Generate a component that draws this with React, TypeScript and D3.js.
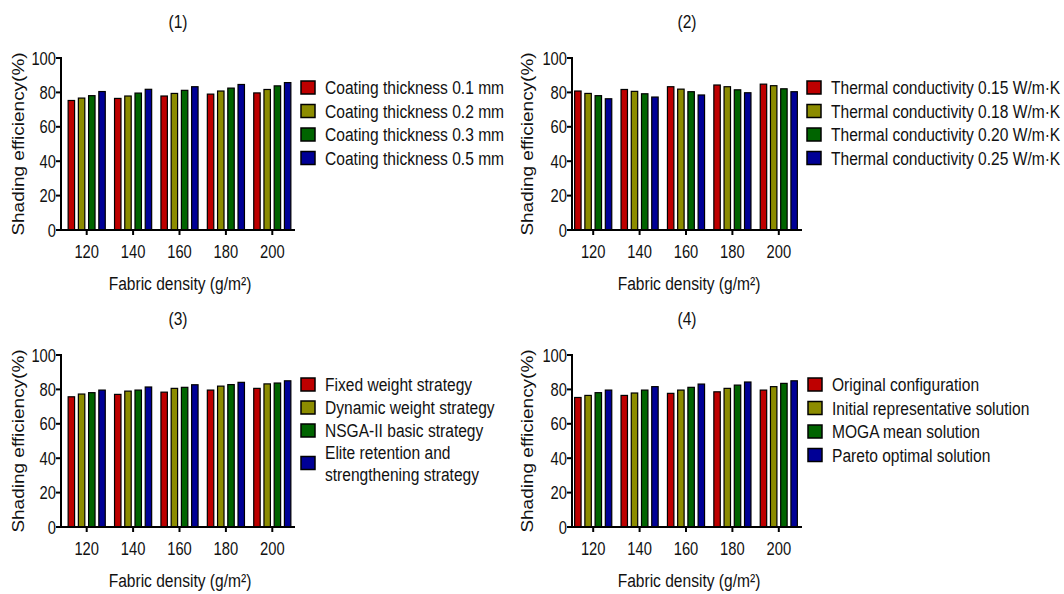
import React from 'react';
import * as d3 from 'd3';

// ---------- DATA ----------
const categories = ['120', '140', '160', '180', '200'];
const yTicks = [0, 20, 40, 60, 80, 100];
const panelTitles = ['(1)', '(2)', '(3)', '(4)'];
const xAxisTitle = 'Fabric density (g/m²)';
const yAxisTitle = 'Shading efficiency(%)';

// Panel 1: coating thickness
const p1Series = ['Coating thickness 0.1 mm', 'Coating thickness 0.2 mm', 'Coating thickness 0.3 mm', 'Coating thickness 0.5 mm'];
const p1Thick01 = [75.3, 76.5, 77.9, 79.0, 79.7];
const p1Thick02 = [76.7, 77.9, 79.4, 80.8, 81.7];
const p1Thick03 = [78.1, 79.6, 81.2, 82.5, 83.8];
const p1Thick05 = [80.5, 81.8, 83.3, 84.6, 85.7];

// Panel 2: thermal conductivity
const p2Series = ['Thermal conductivity 0.15 W/m·K', 'Thermal conductivity 0.18 W/m·K', 'Thermal conductivity 0.20 W/m·K', 'Thermal conductivity 0.25 W/m·K'];
const p2Cond015 = [80.8, 81.7, 83.3, 84.3, 84.8];
const p2Cond018 = [79.4, 80.6, 81.9, 83.3, 83.9];
const p2Cond020 = [78.1, 79.2, 80.4, 81.5, 82.1];
const p2Cond025 = [76.3, 77.3, 78.5, 79.8, 80.4];

// Panel 3: strategies
const p3Series = ['Fixed weight strategy', 'Dynamic weight strategy', 'NSGA-II basic strategy', 'Elite retention and|strengthening strategy'];
const p3Fixed = [75.7, 77.1, 78.4, 79.6, 80.6];
const p3Dynamic = [77.3, 79.0, 80.6, 81.9, 83.2];
const p3Nsga = [78.1, 79.6, 81.2, 82.8, 83.7];
const p3Elite = [79.6, 81.4, 82.7, 84.1, 85.0];

// Panel 4: solutions
const p4Series = ['Original configuration', 'Initial representative solution', 'MOGA mean solution', 'Pareto optimal solution'];
const p4Original = [75.3, 76.5, 77.7, 78.6, 79.6];
const p4Initial = [76.5, 77.9, 79.6, 80.6, 81.6];
const p4Moga = [78.1, 79.6, 81.2, 82.5, 83.5];
const p4Pareto = [79.6, 81.6, 83.1, 84.3, 85.0];

const seriesColors = ['#BE0000', '#8C8C00', '#006400', '#000096'];

// ---------- LAYOUT ----------
const SX = 0.82; // horizontal text compression
const FONT = '"Liberation Sans", Arial, sans-serif';

type PanelProps = {
  oy: number;
  axisX: number;
  bandRange: [number, number];
  xEnd: number;
  titleX: number;
  title: string;
  yLabelX: number;
  legendX: number;
  series: string[];
  values: number[][];
};

function T({ x, y, anchor = 'start', size = 18, rotate = false, children }: any) {
  return (
    <text
      transform={`translate(${x},${y}) scale(${SX},1)${rotate ? ' rotate(-90)' : ''}`}
      textAnchor={anchor}
      fontSize={size}
      fontFamily={FONT}
      fill="#111"
    >
      {children}
    </text>
  );
}

function Panel({ oy, axisX, bandRange, xEnd, titleX, title, yLabelX, legendX, series, values }: PanelProps) {
  const yTop = oy + 58;
  const yBottom = oy + 230;
  const y = d3.scaleLinear().domain([0, 100]).range([yBottom, yTop]);
  const x0 = d3.scaleBand<string>().domain(categories).range(bandRange).paddingInner(0.2).paddingOuter(0.1);
  const x1 = d3.scaleBand<string>().domain(series).range([0, x0.bandwidth()]).paddingInner(0.37);
  const legendRowY = [oy + 87.5, oy + 111, oy + 134.5, oy + 158];
  const lastRowMulti = series[3].includes('|');
  const rows = lastRowMulti ? [oy + 87.5, oy + 110.5, oy + 133.5, oy + 166] : legendRowY;

  return (
    <g>
      <T x={titleX} y={oy + 28} anchor="middle" size={19}>{title}</T>
      {/* bars */}
      {categories.map((c, ci) => (
        <g key={c}>
          {series.map((s, si) => {
            const v = values[si][ci];
            const bx = (x0(c) as number) + (x1(s) as number);
            return (
              <rect
                key={s}
                x={bx}
                y={y(v)}
                width={x1.bandwidth()}
                height={yBottom - y(v)}
                fill={seriesColors[si]}
                stroke="#000"
                strokeWidth={1.2}
              />
            );
          })}
        </g>
      ))}
      {/* y axis */}
      <line x1={axisX} x2={axisX} y1={yTop - 1} y2={yBottom + 1} stroke="#000" strokeWidth={2} />
      {yTicks.map((t) => (
        <g key={t}>
          <line x1={axisX - 5} x2={axisX} y1={y(t)} y2={y(t)} stroke="#000" strokeWidth={2} />
          <T x={axisX - 5} y={y(t) + 6.5} anchor="end" size={18}>{t}</T>
        </g>
      ))}
      {/* x axis */}
      <line x1={axisX - 1} x2={xEnd} y1={yBottom} y2={yBottom} stroke="#000" strokeWidth={2} />
      {categories.map((c) => {
        const cx = (x0(c) as number) + x0.bandwidth() / 2;
        return (
          <g key={c}>
            <line x1={cx} x2={cx} y1={yBottom} y2={yBottom + 5} stroke="#000" strokeWidth={2} />
            <T x={cx} y={yBottom + 27.5} anchor="middle" size={18}>{c}</T>
          </g>
        );
      })}
      <T x={titleX + 2} y={oy + 290} anchor="middle" size={19}>{xAxisTitle}</T>
      <T x={yLabelX} y={(yTop + yBottom) / 2} anchor="middle" size={19} rotate>{yAxisTitle}</T>
      {/* legend */}
      {series.map((s, si) => {
        const ry = rows[si];
        const parts = s.split('|');
        return (
          <g key={s}>
            <rect x={legendX} y={ry - 6.5} width={14} height={13} fill={seriesColors[si]} stroke="#000" strokeWidth={1.5} />
            {parts.length === 1 ? (
              <T x={legendX + 24} y={ry + 6.5} size={19}>{s}</T>
            ) : (
              parts.map((p, pi) => (
                <T key={p} x={legendX + 24} y={ry + 6.5 + (pi - 0.5) * 22} size={19}>{p}</T>
              ))
            )}
          </g>
        );
      })}
    </g>
  );
}

export default function App() {
  return (
    <svg
      width={1064}
      height={594}
      viewBox="0 0 1064 594"
      style={{ position: 'absolute', left: 0, top: 0, background: '#fff', display: 'block' }}
    >
      <rect width={1064} height={594} fill="#fff" />
      <Panel
        oy={0}
        axisX={61}
        bandRange={[63.5, 295.5]}
        xEnd={295}
        titleX={178}
        title={panelTitles[0]}
        yLabelX={24}
        legendX={301}
        series={p1Series}
        values={[p1Thick01, p1Thick02, p1Thick03, p1Thick05]}
      />
      <Panel
        oy={0}
        axisX={572}
        bandRange={[570, 802]}
        xEnd={802}
        titleX={687}
        title={panelTitles[1]}
        yLabelX={533}
        legendX={807}
        series={p2Series}
        values={[p2Cond015, p2Cond018, p2Cond020, p2Cond025]}
      />
      <Panel
        oy={297}
        axisX={61}
        bandRange={[63.5, 295.5]}
        xEnd={295}
        titleX={178}
        title={panelTitles[2]}
        yLabelX={24}
        legendX={301}
        series={p3Series}
        values={[p3Fixed, p3Dynamic, p3Nsga, p3Elite]}
      />
      <Panel
        oy={297}
        axisX={572}
        bandRange={[570, 802]}
        xEnd={802}
        titleX={687}
        title={panelTitles[3]}
        yLabelX={533}
        legendX={808}
        series={p4Series}
        values={[p4Original, p4Initial, p4Moga, p4Pareto]}
      />
    </svg>
  );
}
